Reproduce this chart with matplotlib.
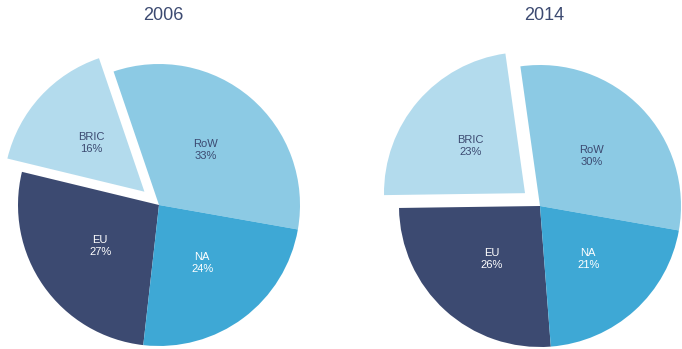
import numpy as np
import matplotlib.pyplot as plt

# market share by region, two snapshots
regions = ["RoW", "BRIC", "EU", "NA"]
share_2006 = [33, 16, 27, 24]
share_2014 = [30, 23, 26, 21]
years = ["2006", "2014"]

colors = ["#8ccae4", "#b3dbed", "#3c4a71", "#3ea8d5"]
text_colors = ["#3c4a71", "#3c4a71", "#ffffff", "#ffffff"]
explode = [0, 0.14, 0, 0]

W, H = 682, 349
R = 141  # pie radius in pixels
centers = [(159, 205), (540, 206)]
start = -10

fig = plt.figure(figsize=(W / 100, H / 100), dpi=100)
fig.patch.set_facecolor("white")

for year, shares, (cx, cy) in zip(years, [share_2006, share_2014], centers):
    aw = 320
    ax = fig.add_axes([(cx - aw / 2) / W, 0, aw / W, 1])
    ax.pie(shares, colors=colors, explode=explode, startangle=start,
           counterclock=True, radius=1, wedgeprops=dict(linewidth=0))

    # labels inside each wedge: name and percentage
    total = sum(shares)
    ang = start
    for i, (name, v) in enumerate(zip(regions, shares)):
        span = v / total * 360
        mid = np.deg2rad(ang + span / 2)
        ang += span
        d = 0.51 + explode[i]
        ax.text(d * np.cos(mid), d * np.sin(mid), f"{name}\n{v}%",
                ha="center", va="center", fontsize=8, color=text_colors[i],
                linespacing=1.25, family="Liberation Sans")

    ax.set_xlim(-aw / 2 / R, aw / 2 / R)
    ax.set_ylim(-(H - cy) / R, cy / R)
    ax.set_aspect("auto")
    ax.axis("off")
    fig.text(cx / W + 0.006, 1 - 15 / H, year, ha="center", va="center",
             fontsize=13, color="#3c4a71", family="Liberation Sans")

plt.savefig("out.png", dpi=100, facecolor="white")
